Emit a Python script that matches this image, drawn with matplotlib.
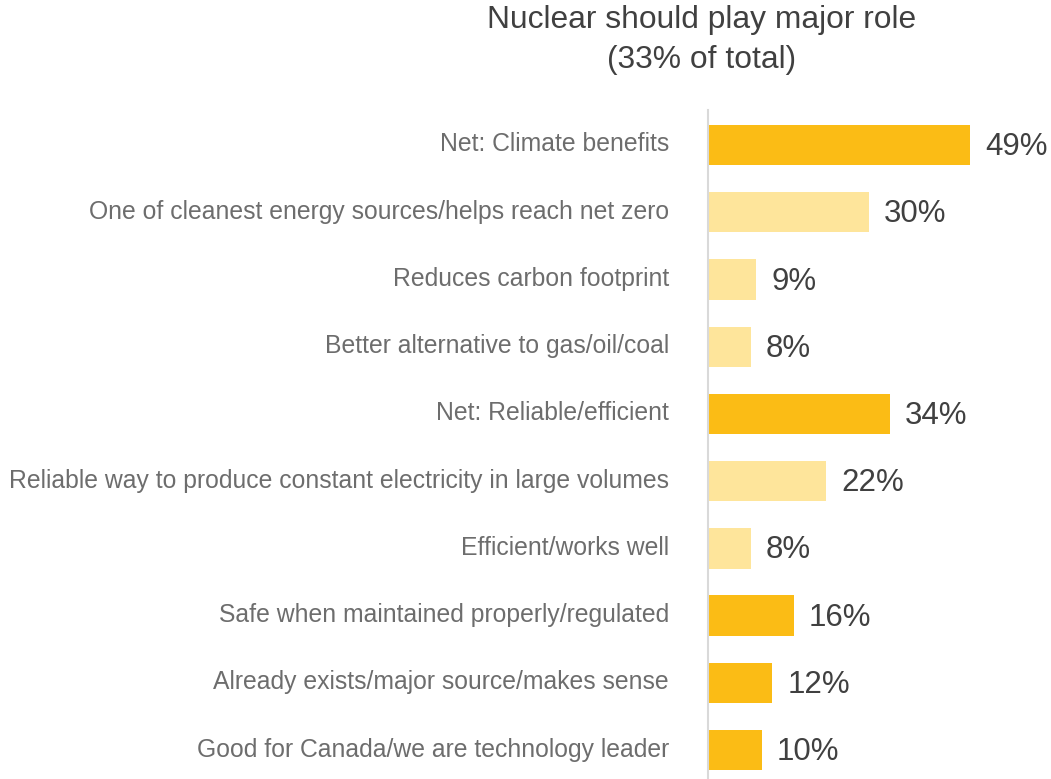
import matplotlib.pyplot as plt
from matplotlib.transforms import ScaledTranslation

plt.rcParams['font.family'] = ['Liberation Sans', 'DejaVu Sans']

labels = [
    'Net: Climate benefits',
    'One of cleanest energy sources/helps reach net zero',
    'Reduces carbon footprint',
    'Better alternative to gas/oil/coal',
    'Net: Reliable/efficient',
    'Reliable way to produce constant electricity in large volumes',
    'Efficient/works well',
    'Safe when maintained properly/regulated',
    'Already exists/major source/makes sense',
    'Good for Canada/we are technology leader',
]
values = [49, 30, 9, 8, 34, 22, 8, 16, 12, 10]
is_net = [True, False, False, False, True, False, False, True, True, True]

DARK = '#FBBC15'
LIGHT = '#FEE59B'

fig = plt.figure(figsize=(10.51, 7.79), dpi=100)
ax = fig.add_axes([708 / 1051, 0, 1 - 708 / 1051, 669 / 779])

pos = list(range(len(values)))
colors = [DARK if n else LIGHT for n in is_net]
ax.barh(pos, values, height=0.6, color=colors)

for p, v in zip(pos, values):
    ax.annotate(f'{v}%', (v, p), xytext=(11, -1.5), textcoords='offset points',
                va='center', ha='left', fontsize=22.5, color='#404040')

ax.set_yticks(pos)
ax.set_yticklabels(labels, fontsize=17.8, color='#6d6d6d')
ax.tick_params(axis='y', length=0, pad=28)
# nudge category labels slightly upward
shift = ScaledTranslation(0, 3 / 100, fig.dpi_scale_trans)
for t in ax.get_yticklabels():
    t.set_transform(t.get_transform() + shift)
ax.set_xticks([])
ax.set_xlim(0, 64.1)
ax.set_ylim(9.43, -0.52)

for side in ['top', 'right', 'bottom']:
    ax.spines[side].set_visible(False)
ax.spines['left'].set_color('#d9d9d9')
ax.spines['left'].set_linewidth(1.5)

fig.text(702 / 1051, 1 - 40 / 779, 'Nuclear should play major role\n(33% of total)',
         ha='center', va='center', fontsize=22.9, color='#404040', linespacing=1.45)

fig.savefig('out.png', dpi=100)
